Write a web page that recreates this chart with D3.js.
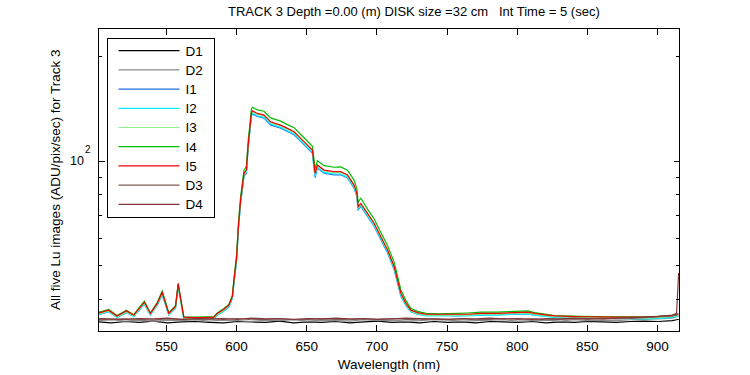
<!DOCTYPE html>
<html>
<head>
<meta charset="utf-8">
<script src="https://cdn.jsdelivr.net/npm/d3@7"></script>
<style>
    body { margin: 0; background: #fff; }
    text { font-family: "Liberation Sans", Arial, sans-serif; fill: #000; }
</style>
</head>
<body>
<div id="chart"></div>
<script>
// wavelength grid (nm) shared by the five Lu image traces
const wl = [502, 503.2, 509.1, 515.1, 521.8, 527, 534.6, 538.9, 543.7, 547.3, 552, 556.8, 558.7, 562.7, 570, 578,
    584.1, 586.6, 591.3, 594.9, 597.3, 598.4, 600.4, 601.6, 603.2, 605.6, 607.3, 608.7, 609.9, 610.9, 611.6,
    615.1, 619.9, 624.6, 631.8, 636.6, 641.3, 646.1, 650.9, 654.4, 656.3, 658.0, 662.7, 669.9, 674.6, 679.4,
    684.1, 686.1, 687.0, 688.9, 693.7, 698.4, 703.2, 708.0, 712.7, 716.3, 717.5, 721.1, 724.6, 729.4, 735.4,
    745, 758, 765.1, 774.6, 786.6, 798.4, 808, 812.7, 822.3, 827, 846.1, 869.9, 893.7, 910.4, 915.1]

const I1 = [36.3, 36.2, 36.8, 35.5, 36.6, 35.7, 38.7, 36.1, 38.4, 41.2, 36.1, 37.7, 43.6, 35.2, 35.1, 35.1,
    35.2, 36.0, 37.0, 38.0, 40.2, 44.2, 52.0, 63.3, 75.5, 90.2, 92.1, 110, 122.7, 134.6, 136.4,
    134, 132.6, 126.8, 124, 121.4, 118.8, 113.7, 108.7, 105.2, 89.5, 95.3, 92.1, 91.1, 91.1, 89.2,
    83.4, 79, 72.3, 73.9, 69.2, 64.8, 59.3, 54.3, 48.6, 42.6, 40.8, 38.3, 36.8, 36.2, 35.9,
    35.9, 35.8, 35.9, 36.0, 36.1, 36.2, 36.3, 36.0, 35.7, 35.5, 35.3, 35.2, 35.2, 35.5, 35.9]

const I2 = [36.2, 36.3, 36.9, 35.4, 36.7, 35.6, 38.8, 36.0, 38.5, 41.3, 36.0, 37.8, 43.8, 35.1, 35.1, 35.1,
    35.1, 36.0, 37.0, 38.1, 40.3, 44.3, 52.2, 63.6, 75.9, 90.6, 92.6, 110.5, 123.3, 135.3, 137.1,
    134.7, 133.3, 127.5, 124.7, 122, 119.4, 114.3, 109.2, 105.7, 90.2, 95.7, 92.6, 91.6, 91.6, 89.6,
    83.8, 79.4, 72.7, 74.3, 69.5, 65.1, 59.6, 54.6, 48.9, 42.8, 41.0, 38.4, 36.8, 36.2, 35.8,
    35.8, 35.9, 35.8, 36.0, 36.0, 36.2, 36.3, 36.0, 35.6, 35.4, 35.3, 35.2, 35.1, 35.4, 35.8]

const I3 = [36.4, 36.4, 37.0, 35.6, 36.8, 35.8, 39.0, 36.2, 38.7, 41.6, 36.2, 37.9, 44.1, 35.3, 35.2, 35.2,
    35.3, 36.2, 37.2, 38.3, 40.5, 44.7, 52.7, 64.3, 76.7, 91.5, 93.5, 111.6, 124.6, 136.7, 138.5,
    136.1, 134.6, 128.8, 126, 123.3, 120.6, 115.4, 110.3, 106.8, 91.5, 96.7, 93.5, 92.5, 92.5, 90.5,
    84.7, 80.2, 73.4, 75.0, 70.2, 65.8, 60.2, 55.1, 49.4, 43.2, 41.4, 38.7, 37.0, 36.4, 36.0,
    36.0, 36.0, 36.0, 36.2, 36.2, 36.4, 36.5, 36.2, 35.8, 35.6, 35.4, 35.3, 35.3, 35.6, 36.0]

const I4 = [36.8, 36.8, 37.4, 35.9, 37.2, 36.1, 39.5, 36.5, 39.1, 42.2, 36.6, 38.3, 44.0, 35.6, 35.5, 35.6,
    35.6, 36.5, 37.6, 38.7, 41.0, 45.5, 53.8, 65.8, 78.6, 94.0, 96.2, 115, 128, 141, 142.5,
    140, 138.8, 132.8, 130, 127, 124.5, 119, 113.8, 110, 95, 100, 96.8, 95.8, 96, 94,
    88, 83, 76, 78, 72.6, 68, 62.2, 57, 51, 44.5, 42.5, 39.6, 37.6, 36.9, 36.4,
    36.3, 36.4, 36.5, 36.7, 36.7, 36.9, 37.0, 36.6, 36.1, 35.9, 35.7, 35.6, 35.6, 35.9, 36.3]

const I5 = [36.6, 36.6, 37.2, 35.8, 37.0, 36.0, 39.2, 36.4, 38.9, 41.8, 36.4, 38.1, 44.4, 35.5, 35.4, 35.4,
    35.5, 36.4, 37.4, 38.5, 40.7, 45.0, 53.0, 64.6, 77.1, 92.0, 94.0, 112.2, 125.2, 137.4, 139.2,
    136.8, 135.3, 129.4, 126.6, 123.9, 121.2, 116.0, 110.9, 107.3, 92.0, 97.2, 94.0, 93.0, 93.0, 91.0,
    85.1, 80.6, 73.8, 75.4, 70.6, 66.1, 60.5, 55.4, 49.6, 43.4, 41.6, 38.9, 37.2, 36.6, 36.2,
    36.2, 36.2, 36.2, 36.4, 36.4, 36.6, 36.7, 36.4, 36.0, 35.8, 35.6, 35.5, 35.5, 35.8, 36.2]

// wavelength grid (nm) for the dark frames
const darkWl = [502, 511, 521, 531, 541, 551, 561, 571, 581, 591, 601, 611, 621, 631, 641, 651, 661, 671,
    681, 691, 701, 711, 721, 731, 741, 751, 761, 771, 781, 791, 801, 811, 821, 831, 841, 851, 861, 871,
    881, 891, 901, 911, 914, 915.5]

const D1 = [34.4, 34.2, 34.5, 34.3, 34.6, 34.2, 34.4, 34.5, 34.3, 34.2, 34.5, 34.4, 34.3, 34.6, 34.2, 34.4,
    34.3, 34.5, 34.2, 34.4, 34.6, 34.3, 34.4, 34.2, 34.5, 34.3, 34.4, 34.2, 34.5, 34.4, 34.3, 34.5,
    34.2, 34.4, 34.3, 34.5, 34.4, 34.3, 34.5, 34.6, 34.5, 34.7, 34.9, 35.0]

const D2 = [34.7, 34.9, 34.6, 34.8, 34.5, 34.8, 34.7, 34.9, 34.6, 34.8, 34.7, 34.5, 34.8, 34.7, 34.9, 34.6,
    34.8, 34.7, 34.6, 34.9, 34.7, 34.8, 34.6, 34.7, 34.9, 34.8, 34.6, 34.7, 34.8, 34.9, 34.6, 34.7,
    34.8, 34.6, 34.9, 34.7, 34.8, 34.7, 34.9, 35.0, 35.1, 35.3, 35.6, 35.8]

const D3 = [35.0, 34.9, 35.1, 35.0, 34.8, 35.1, 35.0, 34.9, 35.1, 35.0, 35.2, 34.9, 35.0, 35.1, 34.9, 35.0,
    35.1, 35.0, 34.9, 35.1, 35.0, 35.2, 35.0, 34.9, 35.1, 35.0, 35.1, 34.9, 35.0, 35.2, 35.0, 35.1,
    34.9, 35.0, 35.1, 35.0, 35.2, 35.1, 35.2, 35.4, 35.6, 35.8, 36.0, 36.3]

const D4 = [35.2, 35.1, 35.0, 35.2, 35.1, 35.3, 35.0, 35.2, 35.1, 35.2, 35.0, 35.3, 35.1, 35.2, 35.0, 35.2,
    35.1, 35.3, 35.1, 35.2, 35.0, 35.1, 35.3, 35.2, 35.1, 35.0, 35.2, 35.1, 35.3, 35.1, 35.2, 35.0,
    35.2, 35.1, 35.3, 35.2, 35.1, 35.3, 35.4, 35.5, 35.7, 36.0, 36.4, 47.6]

const seriesNames = ["D1", "D2", "I1", "I2", "I3", "I4", "I5", "D3", "D4"]
const seriesColors = ["#000000", "#8c8c8c", "#1e6ee0", "#00f0ff", "#8ef08e", "#00c000", "#f00000", "#7f5c5c", "#803838"]
const seriesX = [darkWl, darkWl, wl, wl, wl, wl, wl, darkWl, darkWl]
const seriesY = [D1, D2, I1, I2, I3, I4, I5, D3, D4]

const xTicks = [550, 600, 650, 700, 750, 800, 850, 900]
const yMajorTicks = [100]
const yMinorTicks = [40, 50, 60, 70, 80, 90, 200]
const xDomain = [501.9, 916.1]
const yDomain = [32.4, 240]

const titleText = "TRACK 3 Depth =0.00 (m) DISK size =32 cm   Int Time = 5 (sec)"
const xLabel = "Wavelength (nm)"
const yLabel = "All five Lu images (ADU/pix/sec) for Track 3"

const W = 750, H = 375
const margin = { top: 28.5, right: 70.5, bottom: 44, left: 98.5 }
const width = W - margin.left - margin.right
const height = H - margin.top - margin.bottom

const svg = d3.select("#chart")
    .append("svg")
    .attr("width", W)
    .attr("height", H)

const graph = svg.append("g")
    .attr("transform", "translate(" + margin.left + "," + margin.top + ")")

const x = d3.scaleLinear().domain(xDomain).range([0, width])
const y = d3.scaleLog().domain(yDomain).range([height, 0])

graph.append("defs").append("clipPath")
    .attr("id", "clip")
    .append("rect")
    .attr("width", width)
    .attr("height", height)

// data lines
const line = d3.line()
    .x(d => x(d[0]))
    .y(d => y(d[1]))

const lines = graph.append("g").attr("clip-path", "url(#clip)")
seriesNames.forEach((name, i) => {
    const pts = seriesX[i].map((w, j) => [w, seriesY[i][j]])
    lines.append("path")
        .datum(pts)
        .attr("fill", "none")
        .attr("stroke", seriesColors[i])
        .attr("stroke-width", 1.2)
        .attr("d", line)
})

// axes, ticks pointing inward
const styleAxis = g => {
    g.select(".domain").remove()
    g.selectAll("line").attr("stroke", "#000").attr("shape-rendering", "crispEdges")
    g.selectAll("text").style("font-size", "13.5px").style("font-family", "'Liberation Sans', Arial, sans-serif")
}

graph.append("g")
    .attr("transform", "translate(0," + height + ")")
    .call(d3.axisBottom(x).tickValues(xTicks).tickSize(-6).tickPadding(10).tickFormat(d3.format("d")))
    .call(styleAxis)

graph.append("g")
    .call(d3.axisTop(x).tickValues(xTicks).tickSize(-6).tickFormat(""))
    .call(styleAxis)

graph.append("g")
    .call(d3.axisLeft(y).tickValues(yMajorTicks).tickSize(-6).tickFormat(""))
    .call(styleAxis)
graph.append("g")
    .call(d3.axisLeft(y).tickValues(yMinorTicks).tickSize(-3.5).tickFormat(""))
    .call(styleAxis)
graph.append("g")
    .attr("transform", "translate(" + width + ",0)")
    .call(d3.axisRight(y).tickValues(yMajorTicks).tickSize(-6).tickFormat(""))
    .call(styleAxis)
graph.append("g")
    .attr("transform", "translate(" + width + ",0)")
    .call(d3.axisRight(y).tickValues(yMinorTicks).tickSize(-3.5).tickFormat(""))
    .call(styleAxis)

// 10^2 label
graph.append("text")
    .attr("x", -14.5)
    .attr("y", y(100) + 4.5)
    .attr("text-anchor", "end")
    .style("font-size", "12.5px")
    .text("10")
graph.append("text")
    .attr("x", -13.5)
    .attr("y", y(100) - 7.5)
    .style("font-size", "10px")
    .text("2")

// plot frame
graph.append("rect")
    .attr("width", width)
    .attr("height", height)
    .attr("fill", "none")
    .attr("stroke", "#000")
    .attr("shape-rendering", "crispEdges")

// legend
const legend = graph.append("g").attr("transform", "translate(9,10)")
legend.append("rect")
    .attr("width", 107)
    .attr("height", 179)
    .attr("fill", "#fff")
    .attr("stroke", "#000")
    .attr("shape-rendering", "crispEdges")
seriesNames.forEach((name, i) => {
    const ly = 12.2 + i * 19.2
    legend.append("line")
        .attr("x1", 11).attr("x2", 72)
        .attr("y1", ly).attr("y2", ly)
        .attr("stroke", seriesColors[i])
        .attr("stroke-width", 1.2)
    legend.append("text")
        .attr("x", 78)
        .attr("y", ly)
        .attr("dy", "0.36em")
        .style("font-size", "13.5px")
        .text(name)
})

// titles
svg.append("text")
    .attr("x", 228)
    .attr("y", 16)
    .style("font-size", "13px")
    .style("white-space", "pre")
    .text(titleText)

svg.append("text")
    .attr("x", margin.left + width / 2)
    .attr("y", 369)
    .attr("text-anchor", "middle")
    .style("font-size", "13.5px")
    .text(xLabel)

svg.append("text")
    .attr("transform", "translate(60," + (margin.top + height / 2) + ") rotate(-90)")
    .attr("text-anchor", "middle")
    .style("font-size", "13.5px")
    .text(yLabel)
</script>
</body>
</html>
